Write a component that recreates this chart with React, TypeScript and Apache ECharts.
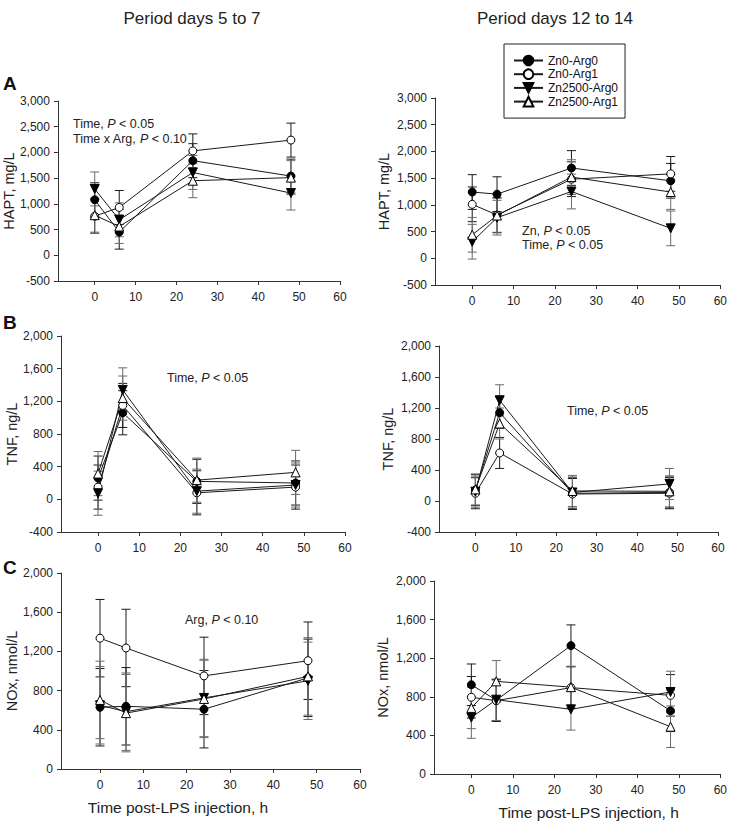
import React, { useEffect, useRef } from "react";
import * as echarts from "echarts";

// ---- data ----
const TIME_H = [0, 6, 24, 48];
const GROUP_NAMES = ["Zn0-Arg0", "Zn0-Arg1", "Zn2500-Arg0", "Zn2500-Arg1"];
const X_TICKS = [0, 10, 20, 30, 40, 50, 60];

// HAPT, mg/L — period days 5 to 7
const HAPT_D5_ZN0_ARG0 = [1080, 450, 1840, 1540];
const HAPT_D5_ZN0_ARG1 = [760, 930, 2030, 2240];
const HAPT_D5_ZN2500_ARG0 = [1290, 690, 1610, 1210];
const HAPT_D5_ZN2500_ARG1 = [780, 560, 1450, 1510];
const HAPT_D5_SEM = [330, 330, 330, 330];
// HAPT, mg/L — period days 12 to 14
const HAPT_D12_ZN0_ARG0 = [1240, 1200, 1690, 1450];
const HAPT_D12_ZN0_ARG1 = [1010, 810, 1480, 1580];
const HAPT_D12_ZN2500_ARG0 = [310, 760, 1250, 560];
const HAPT_D12_ZN2500_ARG1 = [440, 800, 1520, 1240];
const HAPT_D12_SEM = [325, 325, 325, 325];

// TNF, ng/L — period days 5 to 7
const TNF_D5_ZN0_ARG0 = [260, 1060, 220, 200];
const TNF_D5_ZN0_ARG1 = [150, 1150, 80, 150];
const TNF_D5_ZN2500_ARG0 = [75, 1340, 100, 175];
const TNF_D5_ZN2500_ARG1 = [315, 1240, 235, 330];
const TNF_D5_SEM = [270, 270, 270, 270];
// TNF, ng/L — period days 12 to 14
const TNF_D12_ZN0_ARG0 = [140, 1140, 100, 110];
const TNF_D12_ZN0_ARG1 = [100, 620, 90, 100];
const TNF_D12_ZN2500_ARG0 = [120, 1300, 110, 220];
const TNF_D12_ZN2500_ARG1 = [150, 1000, 130, 125];
const TNF_D12_SEM = [200, 200, 200, 200];

// NOx, nmol/L — period days 5 to 7
const NOX_D5_ZN0_ARG0 = [630, 640, 610, 930];
const NOX_D5_ZN0_ARG1 = [1335, 1235, 950, 1105];
const NOX_D5_ZN2500_ARG0 = [650, 585, 725, 900];
const NOX_D5_ZN2500_ARG1 = [705, 570, 715, 945];
const NOX_D5_SEM = [395, 395, 395, 395];
// NOx, nmol/L — period days 12 to 14
const NOX_D12_ZN0_ARG0 = [925, 765, 1330, 655];
const NOX_D12_ZN0_ARG1 = [795, 760, 895, 815];
const NOX_D12_ZN2500_ARG0 = [585, 770, 670, 850];
const NOX_D12_ZN2500_ARG1 = [685, 960, 900, 490];
const NOX_D12_SEM = [215, 215, 215, 215];

const FONT = "'Liberation Sans', Arial, Helvetica, sans-serif";

const panels = [
  { means: [HAPT_D5_ZN0_ARG0, HAPT_D5_ZN0_ARG1, HAPT_D5_ZN2500_ARG0, HAPT_D5_ZN2500_ARG1], sem: HAPT_D5_SEM,
    yMin: -500, yMax: 3000, yStep: 500, yName: "HAPT, mg/L", rect: [57, 101, 283, 180], nameGap: 39 },
  { means: [HAPT_D12_ZN0_ARG0, HAPT_D12_ZN0_ARG1, HAPT_D12_ZN2500_ARG0, HAPT_D12_ZN2500_ARG1], sem: HAPT_D12_SEM,
    yMin: -500, yMax: 3000, yStep: 500, yName: "HAPT, mg/L", rect: [435, 98, 287, 187], nameGap: 44 },
  { means: [TNF_D5_ZN0_ARG0, TNF_D5_ZN0_ARG1, TNF_D5_ZN2500_ARG0, TNF_D5_ZN2500_ARG1], sem: TNF_D5_SEM,
    yMin: -400, yMax: 2000, yStep: 400, yName: "TNF, ng/L", rect: [61, 336, 284, 196], nameGap: 39 },
  { means: [TNF_D12_ZN0_ARG0, TNF_D12_ZN0_ARG1, TNF_D12_ZN2500_ARG0, TNF_D12_ZN2500_ARG1], sem: TNF_D12_SEM,
    yMin: -400, yMax: 2000, yStep: 400, yName: "TNF, ng/L", rect: [439, 346, 279, 186], nameGap: 44 },
  { means: [NOX_D5_ZN0_ARG0, NOX_D5_ZN0_ARG1, NOX_D5_ZN2500_ARG0, NOX_D5_ZN2500_ARG1], sem: NOX_D5_SEM,
    yMin: 0, yMax: 2000, yStep: 400, yName: "NOx, nmol/L", rect: [61, 573, 299, 196], nameGap: 39 },
  { means: [NOX_D12_ZN0_ARG0, NOX_D12_ZN0_ARG1, NOX_D12_ZN2500_ARG0, NOX_D12_ZN2500_ARG1], sem: NOX_D12_SEM,
    yMin: 0, yMax: 2000, yStep: 400, yName: "NOx, nmol/L", rect: [434, 581, 289, 193], nameGap: 44 },
];

const markerStyles = [
  { symbol: "circle", symbolSize: 8, itemStyle: { color: "#000", borderColor: "#000", borderWidth: 1 } },
  { symbol: "circle", symbolSize: 8, itemStyle: { color: "#fff", borderColor: "#000", borderWidth: 1 } },
  { symbol: "path://M0,0L10,0L5,9Z", symbolSize: 9, itemStyle: { color: "#000", borderColor: "#000", borderWidth: 1 } },
  { symbol: "triangle", symbolSize: 9, itemStyle: { color: "#fff", borderColor: "#000", borderWidth: 1 } },
];
const errColors = ["#1a1a1a", "#1a1a1a", "#6a6a6a", "#6a6a6a"];

const fmt = (v: number) => v.toLocaleString("en-US");

function buildOption() {
  const grid: any[] = [];
  const xAxis: any[] = [];
  const yAxis: any[] = [];
  const series: any[] = [];
  panels.forEach((p, i) => {
    grid.push({ left: p.rect[0], top: p.rect[1], width: p.rect[2], height: p.rect[3], containLabel: false });
    const isBottom = i >= 4;
    xAxis.push({
      type: "value", gridIndex: i, min: -9, max: 60,
      axisLine: { show: true, onZero: false, lineStyle: { color: "#333", width: 1 } },
      axisTick: { show: true, length: 4, customValues: X_TICKS, lineStyle: { color: "#333" } },
      axisLabel: { customValues: X_TICKS, color: "#222", fontSize: 12, fontFamily: FONT, margin: 10 },
      splitLine: { show: false },
      name: isBottom ? "Time post-LPS injection, h" : "",
      nameLocation: "middle", nameGap: 30,
      nameTextStyle: { fontSize: 15.5, color: "#222", fontFamily: FONT, padding: i === 4 ? [0, 65, 0, 0] : [0, 0, 0, 23] },
    });
    yAxis.push({
      type: "value", gridIndex: i, min: p.yMin, max: p.yMax, interval: p.yStep,
      axisLine: { show: true, onZero: false, lineStyle: { color: "#333", width: 1 } },
      axisTick: { show: true, length: 4, lineStyle: { color: "#333" } },
      axisLabel: { formatter: fmt, color: "#222", fontSize: 12, fontFamily: FONT, margin: 8 },
      splitLine: { show: false },
      name: p.yName, nameLocation: "middle", nameGap: p.nameGap,
      nameTextStyle: { fontSize: 14.5, color: "#222", fontFamily: FONT },
    });
    p.means.forEach((vals, g) => {
      series.push({
        type: "custom", name: GROUP_NAMES[g] + " SEM", xAxisIndex: i, yAxisIndex: i, z: 1,
        data: TIME_H.map((t, k) => [t, vals[k] - p.sem[k], vals[k] + p.sem[k]]),
        encode: { x: 0, y: [1, 2] },
        renderItem: (params: any, api: any) => {
          const x = api.value(0);
          const a = api.coord([x, api.value(1)]);
          const b = api.coord([x, api.value(2)]);
          const hw = 4.5;
          const st = { stroke: errColors[g], lineWidth: 1 };
          return {
            type: "group",
            children: [
              { type: "line", shape: { x1: a[0], y1: a[1], x2: b[0], y2: b[1] }, style: st },
              { type: "line", shape: { x1: a[0] - hw, y1: a[1], x2: a[0] + hw, y2: a[1] }, style: st },
              { type: "line", shape: { x1: b[0] - hw, y1: b[1], x2: b[0] + hw, y2: b[1] }, style: st },
            ],
          };
        },
      });
    });
    p.means.forEach((vals, g) => {
      series.push({
        type: "line", name: GROUP_NAMES[g], xAxisIndex: i, yAxisIndex: i, z: 3,
        data: TIME_H.map((t, k) => [t, vals[k]]),
        lineStyle: { color: "#1a1a1a", width: 1 },
        ...markerStyles[g],
      });
    });
  });

  const ANN_SIZE = 12.5;
  const ann = (x: number, y: number, before: string, after: string) => ({
    type: "text", x, y,
    style: {
      text: `{n|${before}}{i|P}{n|${after}}`, fill: "#222", fontSize: ANN_SIZE, fontFamily: FONT, textVerticalAlign: "middle",
      rich: {
        n: { fontSize: ANN_SIZE, fontFamily: FONT, fill: "#222" },
        i: { fontStyle: "italic", fontSize: ANN_SIZE, fontFamily: FONT, fill: "#222" },
      },
    },
  });
  const letter = (x: number, y: number, t: string) => ({
    type: "text", x, y,
    style: { text: t, fill: "#111", fontSize: 19, fontWeight: "bold", fontFamily: FONT, textVerticalAlign: "middle" },
  });
  const heading = (x: number, y: number, t: string) => ({
    type: "text", x, y,
    style: { text: t, fill: "#222", fontSize: 17, fontFamily: FONT, textAlign: "center", textVerticalAlign: "middle" },
  });

  return {
    animation: false,
    backgroundColor: "#fff",
    grid, xAxis, yAxis, series,
    legend: {
      data: GROUP_NAMES, orient: "vertical", left: 504, top: 44,
      itemWidth: 29, itemHeight: 12, itemGap: 1.7, padding: [10.5, 7, 10.5, 9],
      borderColor: "#222", borderWidth: 1, selectedMode: false,
      textStyle: { fontSize: 12, lineHeight: 12, color: "#111", fontFamily: FONT },
    },
    graphic: [
      heading(192, 18, "Period days 5 to 7"),
      heading(555, 18, "Period days 12 to 14"),
      letter(3, 83, "A"),
      letter(3, 322, "B"),
      letter(3, 567, "C"),
      ann(73, 124, "Time, ", " < 0.05"),
      ann(73, 139, "Time x Arg, ", " < 0.10"),
      ann(522, 231, "Zn, ", " < 0.05"),
      ann(522, 245, "Time, ", " < 0.05"),
      ann(167, 378, "Time, ", " < 0.05"),
      ann(567, 411, "Time, ", " < 0.05"),
      ann(185, 620, "Arg, ", " < 0.10"),
    ],
  };
}

export default function App() {
  const ref = useRef<HTMLDivElement>(null);
  useEffect(() => {
    document.body.style.margin = "0";
    const chart = echarts.init(ref.current!, null, { renderer: "svg" });
    chart.setOption(buildOption() as any);
    return () => chart.dispose();
  }, []);
  return <div ref={ref} style={{ position: "absolute", left: 0, top: 0, width: 730, height: 823, background: "#fff" }} />;
}
